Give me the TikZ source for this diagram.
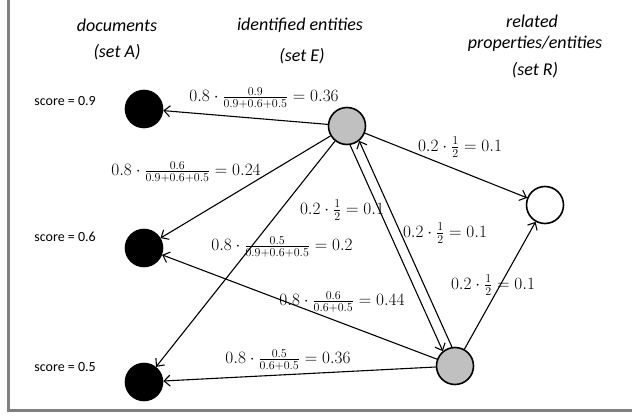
\documentclass[tikz,border=0pt]{standalone}
\usepackage{fontspec}
\setmainfont{Carlito}
\usetikzlibrary{arrows.meta,calc}
\definecolor{entgray}{RGB}{192,192,192}
\definecolor{framegray}{RGB}{128,128,128}
\tikzset{
  dot/.style={circle,draw=black,line width=1.6pt,minimum size=37pt,inner sep=0pt},
  docnode/.style={dot,fill=black},
  entnode/.style={dot,fill=entgray},
  relnode/.style={dot,fill=white},
  arr/.style={line width=1.1pt,-{Straight Barb[length=6pt,width=11pt,line width=1.1pt]}},
  title/.style={font=\fontsize{18}{20}\selectfont\itshape,align=center,inner sep=0pt},
  score/.style={font=\fontsize{14}{16}\selectfont,anchor=east,inner sep=0pt},
  lab/.style={font=\fontsize{16.5}{18}\selectfont,inner sep=0pt}
}
\begin{document}
\begin{tikzpicture}[x=1pt,y=-1pt]
\useasboundingbox (0,0) rectangle (632,417);
% frame
\draw[framegray,line width=3pt] (8.5,-20) rectangle (660,410.5);
% titles
\node[title] (t1) at (117,25) {documents};
\node[title] (t1b) at (117,52) {(set A)};
\node[title] (t2) at (300,25) {identified entities};
\node[title] (t2b) at (302,56) {(set E)};
\node[title] (t3) at (532,21) {related};
\node[title] (t3a) at (535,44) {properties/entities};
\node[title] (t3b) at (535,70) {(set R)};
% nodes
\node[docnode] (a1) at (144,109) {};
\node[docnode] (a2) at (144,248) {};
\node[docnode] (a3) at (144,382) {};
\node[entnode] (e1) at (347,126) {};
\node[entnode] (e2) at (455,366) {};
\node[relnode] (r) at (545,205) {};
% score labels
\node[score] (s1) at (96,101) {score = 0.9};
\node[score] (s2) at (96,237) {score = 0.6};
\node[score] (s3) at (96,367) {score = 0.5};
% connectors
\draw[arr] (e1) -- (a1);
\draw[arr] (e1) -- (a2);
\draw[arr] (e1) -- (a3);
\draw[arr] (e2) -- (a2);
\draw[arr] (e2) -- (a3);
\draw[arr] (e1) -- (r);
\draw[arr] (e2) -- (r);
\draw[arr,shorten <=18.5pt,shorten >=18.5pt] ($(e1)!5pt!-90:(e2)$) -- ($(e2)!5pt!90:(e1)$);
\draw[arr,shorten <=18.5pt,shorten >=18.5pt] ($(e2)!5pt!-90:(e1)$) -- ($(e1)!5pt!90:(e2)$);
% edge labels
\node[lab] (l1) at (264,98) {$0.8\cdot\frac{0.9}{0.9+0.6+0.5}=0.36$};
\node[lab] (l2) at (186,172) {$0.8\cdot\frac{0.6}{0.9+0.6+0.5}=0.24$};
\node[lab] (l6) at (282,247) {$0.8\cdot\frac{0.5}{0.9+0.6+0.5}=0.2$};
\node[lab] (l7) at (342,302) {$0.8\cdot\frac{0.6}{0.6+0.5}=0.44$};
\node[lab] (l8) at (288,360) {$0.8\cdot\frac{0.5}{0.6+0.5}=0.36$};
\node[lab] (l3) at (460,147) {$0.2\cdot\frac{1}{2}=0.1$};
\node[lab] (l4) at (342,210) {$0.2\cdot\frac{1}{2}=0.1$};
\node[lab] (l5) at (445,233) {$0.2\cdot\frac{1}{2}=0.1$};
\node[lab] (l9) at (493,285) {$0.2\cdot\frac{1}{2}=0.1$};
\end{tikzpicture}
\end{document}
